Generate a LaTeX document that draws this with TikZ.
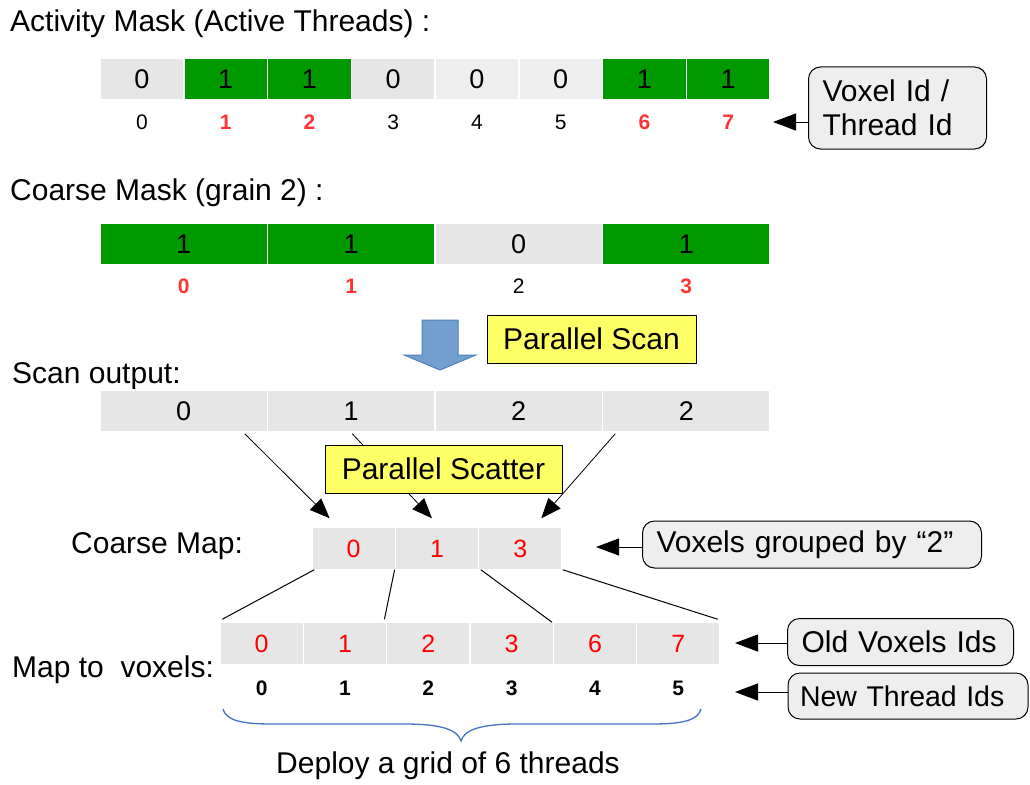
\documentclass[tikz,border=0pt]{standalone}
\usepackage{fontspec}
\setmainfont{Liberation Sans}
\usetikzlibrary{arrows.meta,calc}
\definecolor{cellgray}{HTML}{E6E6E6}
\definecolor{celllight}{HTML}{EEEEEE}
\definecolor{maskgreen}{HTML}{009900}
\definecolor{idred}{HTML}{FF3333}
\definecolor{mapred}{HTML}{FF0000}
\definecolor{noteyellow}{HTML}{FFFF66}
\definecolor{calloutfill}{HTML}{EEEEEE}
\definecolor{bracecolor}{HTML}{4472C4}
\definecolor{flowfill}{HTML}{729FCF}
\definecolor{flowline}{HTML}{4F81BD}
\begin{document}
\begin{tikzpicture}[x=1pt,y=-1pt,
  heading/.style={anchor=base west, inner sep=0pt, font=\fontsize{30}{35}\selectfont},
  cell/.style={draw=white, line width=1.5pt, inner sep=0pt, minimum height=42pt,
               font=\fontsize{27}{30}\selectfont},
  redcell/.style={cell, fill=cellgray, text=mapred, font=\fontsize{25}{30}\selectfont},
  idplain/.style={anchor=base, inner sep=0pt, font=\fontsize{21}{24}\selectfont},
  idhot/.style={anchor=base, inner sep=0pt, text=idred, font=\fontsize{21}{24}\selectfont\bfseries},
  idbold/.style={anchor=base, inner sep=0pt, font=\fontsize{21}{24}\selectfont\bfseries},
  callout/.style={draw, fill=calloutfill, rounded corners=12pt, line width=1pt, align=left,
                  inner xsep=14pt, inner ysep=0pt, font=\fontsize{30}{34}\selectfont},
  stepnote/.style={draw, fill=noteyellow, line width=1pt, inner sep=0pt, minimum height=48pt,
                   font=\fontsize{30}{34}\selectfont},
  pointer/.style={-{Triangle[length=23pt,width=17pt]}, line width=1pt},
  scatterarrow/.style={-{Triangle[length=20pt,width=16pt]}, line width=0.8pt},
  spread/.style={line width=1pt}
]
\path[use as bounding box, fill=white] (0,0) rectangle (1030,784);

% ---------- activity mask ----------
\node[heading] (actlabel) at (10,32) {Activity Mask (Active Threads) :};
\foreach \v/\c/\s [count=\i from 0] in {0/cellgray/idplain, 1/maskgreen/idhot, 1/maskgreen/idhot,
    0/cellgray/idplain, 0/celllight/idplain, 0/celllight/idplain, 1/maskgreen/idhot, 1/maskgreen/idhot} {
  \node[cell, fill=\c, minimum width=83.75pt] (act\i) at ({100+83.75*(\i+0.5)},79) {\v};
  \node[\s] (actid\i) at ({100+83.75*(\i+0.5)},129) {\i};
}
\node[callout, text width=150pt, minimum height=82pt] (vid) at (897.5,108) {Voxel Id /\\Thread Id};
\coordinate (vidtip) at (773,122);
\draw[pointer] (vid.west |- vidtip) -- (vidtip);

% ---------- coarse mask ----------
\node[heading] (coarselabel) at (10,200) {Coarse Mask (grain 2) :};
\foreach \v/\c/\s [count=\i from 0] in {1/maskgreen/idhot, 1/maskgreen/idhot, 0/cellgray/idplain, 1/maskgreen/idhot} {
  \node[cell, fill=\c, minimum width=167.5pt] (cmask\i) at ({100+167.5*(\i+0.5)},244) {\v};
  \node[\s] (cmaskid\i) at ({100+167.5*(\i+0.5)},293) {\i};
}

% ---------- scan ----------
\draw[fill=flowfill, draw=flowline, line width=1pt]
  (422,320) -- (458,320) -- (458,355) -- (476,355) -- (440,370) -- (404,355) -- (422,355) -- cycle;
\node[stepnote, minimum width=209pt] (scannote) at (591.5,339) {Parallel Scan};

\node[heading] (scanlabel) at (12,383) {Scan output:};
\foreach \v [count=\i from 0] in {0,1,2,2} {
  \node[cell, fill=cellgray, minimum width=167.5pt] (scan\i) at ({100+167.5*(\i+0.5)},411) {\v};
}

% ---------- coarse map ----------
\node[heading] (cmaplabel) at (71,553) {Coarse Map:};
\foreach \v [count=\i from 0] in {0,1,3} {
  \node[redcell, minimum width=83.33pt, minimum height=43pt] (cm\i) at ({312+83.33*(\i+0.5)},548.5) {\v};
}

% scatter arrows (drawn before the note so the middle one passes behind it)
\draw[scatterarrow] ($(scan0.south)+(61,1)$) -- ($(cm0.north)+(-24,-8)$);
\draw[scatterarrow] ($(scan1.south)+(1,1)$) -- ($(cm1.north)+(-5,-8)$);
\draw[scatterarrow] ($(scan3.south)+(-71,1)$) -- ($(cm2.north)+(21,-8)$);
\node[stepnote, minimum width=237pt] (scatternote) at (443.5,469) {Parallel Scatter};

\node[callout, text width=311pt, minimum height=47pt] (grp) at (812,544.5) {Voxels grouped by “2”};
\coordinate (grptip) at (596,547);
\draw[pointer] (grp.west |- grptip) -- (grptip);

% ---------- map to voxels ----------
\node[heading] (maplabel) at (12,677) {Map to~ voxels:};
\foreach \v [count=\i from 0] in {0,1,2,3,6,7} {
  \node[redcell, minimum width=83.33pt, minimum height=43pt] (map\i) at ({220+83.33*(\i+0.5)},643.5) {\v};
  \node[idbold] (mapid\i) at ({220+83.33*(\i+0.5)},695) {\i};
}

\draw[spread] ($(cm0.south west)+(3,-1)$) -- ($(map0.north west)+(3,-2)$);
\draw[spread] ($(cm1.south west)+(0,-1)$) -- ($(map1.north east)+(-3,-2)$);
\draw[spread] ($(cm2.south west)+(3,-1)$) -- ($(map3.north east)+(-2,1)$);
\draw[spread] ($(cm2.south east)+(0,-1)$) -- ($(map5.north east)+(-3,-2)$);

\node[callout, text width=198pt, minimum height=47pt] (oldids) at (900.5,642) {Old Voxels Ids};
\coordinate (oldtip) at (735,643);
\draw[pointer] (oldids.west |- oldtip) -- (oldtip);

\node[callout, inner xsep=12pt, text width=216pt, minimum height=46pt,
      font=\fontsize{28.5}{34}\selectfont] (newids) at (908,696) {New Thread Ids};
\coordinate (newtip) at (735,692);
\draw[pointer] (newids.west |- newtip) -- (newtip);

% ---------- thread grid brace ----------
\draw[bracecolor, line width=1.3pt]
  (223,709) .. controls (226,720) and (240,724) .. (272,724) -- (405,724)
  .. controls (445,724) and (458,731) .. (461,741)
  .. controls (464,731) and (477,724) .. (517,724) -- (652,724)
  .. controls (684,724) and (698,720) .. (701,709);
\node[anchor=base, inner sep=0pt, font=\fontsize{30}{35}\selectfont] (deploy) at (448,773) {Deploy a grid of 6 threads};
\end{tikzpicture}
\end{document}
